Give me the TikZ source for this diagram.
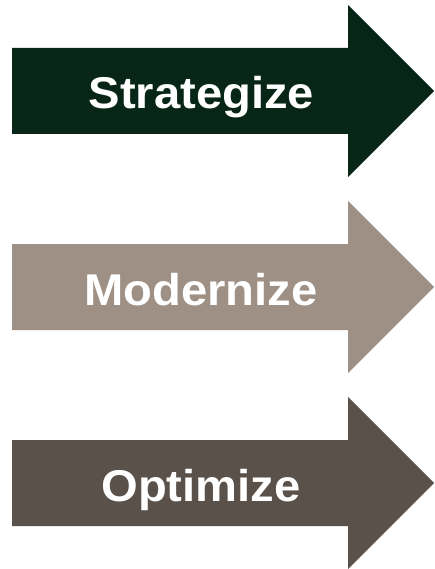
\documentclass[tikz,border=0pt]{standalone}
\usepackage{fontspec}
\setmainfont{Liberation Sans}
\definecolor{arrA}{RGB}{7,38,24}
\definecolor{arrB}{RGB}{158,144,132}
\definecolor{arrC}{RGB}{89,81,74}
\tikzset{
  arrlabel/.style={text=white, font=\fontsize{44.5}{50}\selectfont\bfseries, anchor=base, inner sep=0pt, xscale=1.06}
}
\begin{document}
\begin{tikzpicture}[x=1pt,y=-1pt]
\useasboundingbox (0,0) rectangle (434,569);
\fill[white] (0,0) rectangle (434,569);
% arrow 1
\fill[arrA] (12,48) -- (348,48) -- (348,5) -- (434,91) -- (348,177) -- (348,134) -- (12,134) -- cycle;
\node[arrlabel] (s) at (201.5,109) {Strategize};
% arrow 2
\fill[arrB] (12,244) -- (348,244) -- (348,201) -- (434,287) -- (348,373) -- (348,330) -- (12,330) -- cycle;
\node[arrlabel] (m) at (201,305) {Modernize};
% arrow 3
\fill[arrC] (12,440) -- (348,440) -- (348,397) -- (434,483) -- (348,569) -- (348,526) -- (12,526) -- cycle;
\node[arrlabel] (o) at (201,501) {Optimize};
\end{tikzpicture}
\end{document}
